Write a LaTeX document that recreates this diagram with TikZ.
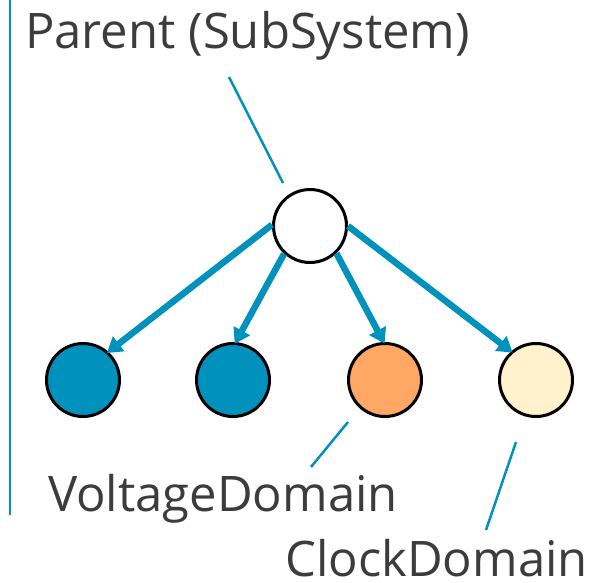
\documentclass[tikz,border=0pt]{standalone}
\usepackage{fontspec}
\setmainfont{Open Sans}
\usetikzlibrary{arrows.meta}
\definecolor{accent}{RGB}{0,146,188}
\definecolor{orangefill}{RGB}{255,167,100}
\definecolor{creamfill}{RGB}{255,242,204}
\definecolor{txt}{RGB}{60,60,60}
\tikzset{
  ball/.style={circle, draw=black, line width=3pt, minimum size=73pt, inner sep=0pt},
  conn/.style={draw=accent, line width=6.5pt, -{Triangle[length=15pt,width=18pt]}, shorten >=-2pt},
  leader/.style={draw=accent, line width=2.5pt},
  lbl/.style={anchor=base west, inner sep=0pt, text=txt, font=\fontsize{49}{58}\selectfont}
}
\begin{document}
\begin{tikzpicture}[x=1pt,y=-1pt]
\useasboundingbox (0,0) rectangle (610,582);
% left rule
\coordinate (r1) at (10,0);
\coordinate (r2) at (10,515);
\draw[leader] (r1) -- (r2);
% nodes
\node[ball, fill=white] (p) at (310,226) {};
\node[ball, fill=accent] (c1) at (83,380) {};
\node[ball, fill=accent] (c2) at (233,380) {};
\node[ball, fill=orangefill] (c3) at (385,380) {};
\node[ball, fill=creamfill] (c4) at (536,380) {};
% arrows
\draw[conn] (p.178) -- (c1.48);
\draw[conn] (p.227) -- (c2.86);
\draw[conn] (p.314) -- (c3.92);
\draw[conn] (p.0) -- (c4.131);
% labels
\node[lbl] (tp) at (25,48) {Parent (SubSystem)};
\node[lbl] (tv) at (48,511) {VoltageDomain};
\node[lbl] (tc) at (285,576) {ClockDomain};
% leader lines
\coordinate (lp1) at (229,77);
\coordinate (lp2) at (283,183);
\draw[leader] (lp1) -- (lp2);
\coordinate (lv1) at (348,422);
\coordinate (lv2) at (311,467);
\draw[leader] (lv1) -- (lv2);
\coordinate (lc1) at (516,442);
\coordinate (lc2) at (486,530);
\draw[leader] (lc1) -- (lc2);
\end{tikzpicture}
\end{document}
